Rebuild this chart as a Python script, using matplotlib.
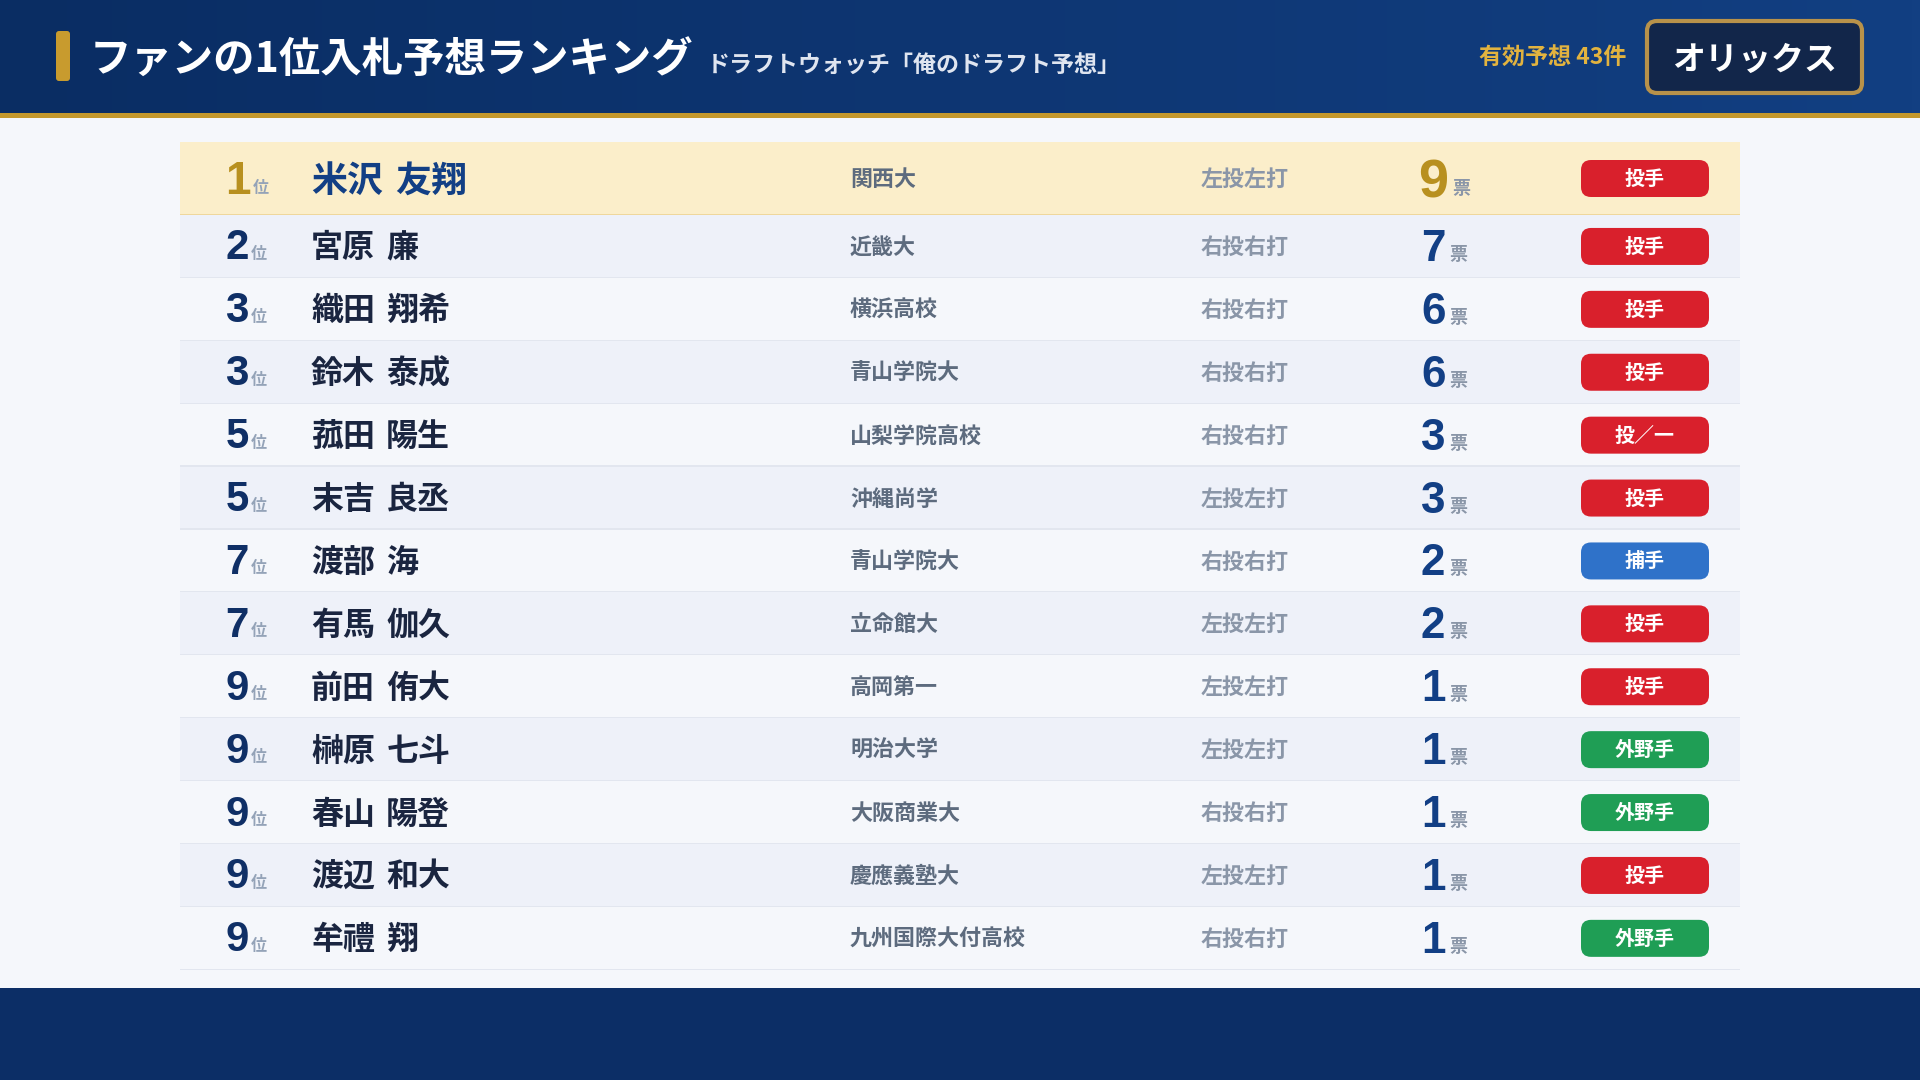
# import statements
import numpy as np
from matplotlib import pyplot as plt
from matplotlib.patches import FancyBboxPatch, Rectangle

plt.rcParams['font.family'] = ['Noto Sans CJK JP', 'DejaVu Sans']

# chart data
title = 'ファンの1位入札予想ランキング'
subtitle = 'ドラフトウォッチ「俺のドラフト予想」'
count_label = '有効予想 43件'
team = 'オリックス'
ranks = [1, 2, 3, 3, 5, 5, 7, 7, 9, 9, 9, 9, 9]
names = ['米沢 友翔', '宮原 廉', '織田 翔希', '鈴木 泰成', '菰田 陽生', '末吉 良丞', '渡部 海',
         '有馬 伽久', '前田 侑大', '榊原 七斗', '春山 陽登', '渡辺 和大', '牟禮 翔']
schools = ['関西大', '近畿大', '横浜高校', '青山学院大', '山梨学院高校', '沖縄尚学', '青山学院大',
           '立命館大', '高岡第一', '明治大学', '大阪商業大', '慶應義塾大', '九州国際大付高校']
hands = ['左投左打', '右投右打', '右投右打', '右投右打', '右投右打', '左投左打', '右投右打',
         '左投左打', '左投左打', '左投左打', '右投右打', '左投左打', '右投右打']
votes = [9, 7, 6, 6, 3, 3, 2, 2, 1, 1, 1, 1, 1]
positions = ['投手', '投手', '投手', '投手', '投／一', '投手', '捕手', '投手', '投手', '外野手', '外野手', '投手', '外野手']

badge_colors = {'投手': '#d9202c', '投／一': '#d9202c', '捕手': '#2f72c9', '外野手': '#1f9e55'}
num_font = 'Liberation Sans'


def put(x, y, s, px, color, ha='left', family=None, weight='bold'):
    # y is the baseline, px the font size in pixels
    kw = {'family': family} if family else {}
    return ax.text(x, y, s, fontsize=px * 0.72, color=color, ha=ha, va='baseline', fontweight=weight, **kw)


def rbox(x0, y0, x1, y1, r, fc, ec='none', lw=0):
    ax.add_patch(FancyBboxPatch((x0, y0), x1 - x0, y1 - y0, boxstyle=f'round,pad=0,rounding_size={r}',
                                fc=fc, ec=ec, lw=lw))


fig = plt.figure(figsize=(19.2, 10.8), dpi=100, facecolor='#f5f7fb')
ax = fig.add_axes([0, 0, 1, 1])
ax.set_xlim(0, 1920)
ax.set_ylim(1080, 0)
ax.axis('off')

# header and footer
grad = np.linspace(0, 1, 256).reshape(1, -1)
left = np.array([10, 45, 99]) / 255
right = np.array([18, 63, 130]) / 255
ax.imshow(left + (right - left) * grad[..., None], extent=(0, 1920, 113, 0), aspect='auto')
ax.set_xlim(0, 1920)
ax.set_ylim(1080, 0)
ax.add_patch(Rectangle((0, 113), 1920, 5, fc='#c4982c', ec='none'))
ax.add_patch(Rectangle((0, 988), 1920, 92, fc='#0c2e66', ec='none'))
rbox(56, 31, 70, 81, 3, '#c89b2e')

put(90, 72.5, title, 41.4, 'white')
put(707, 71.5, subtitle, 23, '#dfe5f0')
put(1626, 65, count_label, 23, '#e2b33f', ha='right')
rbox(1647, 21, 1862, 93, 10, '#12264a', '#b8924a', 3)
put(1755, 70, team, 33, 'white', ha='center')

# table rows
row_tops = [142] + [215 + 62.9 * i for i in range(12)]
row_bots = [215 + 62.9 * i for i in range(13)]
for i in range(len(names)):
    top = row_tops[i]
    bot = row_bots[i]
    mid = (top + bot) / 2
    first = i == 0
    if first:
        bg = '#fbeeca'
        line = '#efd79c'
    elif i % 2 == 1:
        bg = '#eef1f9'
        line = '#e2e6ef'
    else:
        bg = '#f5f7fb'
        line = '#e2e6ef'
    ax.add_patch(Rectangle((180, top), 1560, bot - top, fc=bg, ec='none'))
    ax.add_patch(Rectangle((180, bot - 1.2), 1560, 1.2, fc=line, ec='none'))

    put(225.5, mid + (16 if first else 13), str(ranks[i]), 46 if first else 42, '#b8901f' if first else '#0f2f66',
        family=num_font)
    put(253 if first else 251, mid + (15 if first else 12.5), '位', 16, '#94a3b8')

    # family and given name are drawn apart, the gap is wider than the font's own space
    px = 36 if first else 32
    family_name, given_name = names[i].split(' ')
    name_color = '#123f85' if first else '#1a2540'
    put(311, mid + (13.5 if first else 11), family_name, px, name_color)
    put(311 + (len(family_name) + 0.35) * px, mid + (13.5 if first else 11), given_name, px, name_color)

    put(850, mid + 7.5, schools[i], 22, '#5d6b7e')
    put(1201, mid + 7.5, hands[i], 22, '#8a96a8')
    put(1418 if first else 1421, mid + (18.5 if first else 14.5), str(votes[i]), 54 if first else 44,
        '#b8901f' if first else '#123f85', family=num_font)
    put(1452 if first else 1449.5, mid + (15.5 if first else 13.5), '票', 18, '#8a96a8')
    rbox(1581, mid - 18.5, 1709, mid + 18.5, 10, badge_colors[positions[i]])
    put(1645, mid + 6.5, positions[i], 20, 'white', ha='center')

fig.savefig('out.png', dpi=100, facecolor=fig.get_facecolor())
